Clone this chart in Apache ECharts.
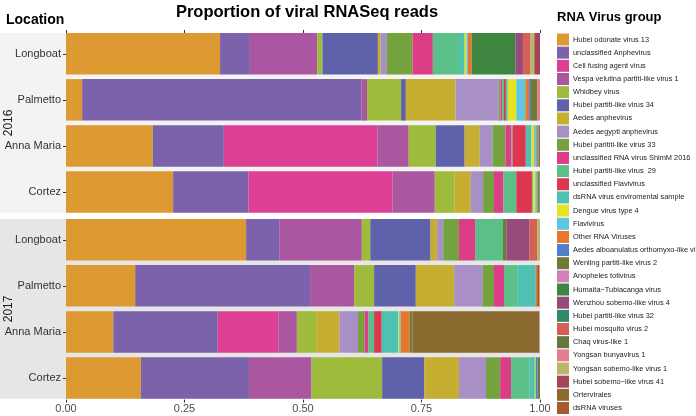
<!DOCTYPE html>
<html>
<head>
<meta charset="utf-8">
<script src="https://cdn.jsdelivr.net/npm/echarts@6/dist/echarts.min.js"></script>
<style>
html,body{margin:0;padding:0;background:#fff;}
#chart{width:696px;height:416px;}
</style>
</head>
<body>
<div id="chart"></div>
<script>
const locations = ['Longboat', 'Palmetto', 'Anna Maria', 'Cortez'];
const years = ['2016', '2017'];
const xTicks = [0, 0.25, 0.5, 0.75, 1];

const virusGroups = [
  'Hubei odonate virus 13', 'unclassified Anphevirus', 'Cell fusing agent virus',
  'Vespa velutina partiti-like virus 1', 'Whidbey virus', 'Hubei partiti-like virus 34',
  'Aedes anphevirus', 'Aedes aegypti anphevirus', 'Hubei parititi-like virus 33',
  'unclassified RNA virus ShimM 2016', 'Hubei partiti-like virus  29', 'unclassified Flavivirus',
  'dsRNA virus enviromental sample', 'Dengue virus type 4', 'Flavivirus', 'Other RNA Viruses',
  'Aedes alboanulatus orthomyxo-like virus', 'Wenling partiti-like virus 2', 'Anopheles totivirus',
  'Humaita\u2212Tubiacanga virus', 'Wenzhou sobemo-like virus 4', 'Hubei partiti-like virus 32',
  'Hubei mosquito virus 2', 'Chaq virus-like 1', 'Yongsan bunyavirus 1',
  'Yongsan sobemo-like virus 1', 'Hubei sobemo\u2212like virus 41', 'Ortervirales', 'dsRNA viruses'
];

const groupColors = [
  '#DD9A33', '#7B62AA', '#DD3F95', '#AB56A0', '#9EBB3C', '#5F62AB',
  '#C5AE30', '#A88FC6', '#74A23F', '#DB3D86', '#5BC087', '#DC3650',
  '#4FC1B0', '#E8E31F', '#5CC7DE', '#E8772E', '#4E80CB', '#707A33',
  '#D480BE', '#3E8540', '#974B7B', '#2E8A68', '#D65F58', '#66773C',
  '#E37E91', '#B8B76A', '#A4455A', '#8B6A2F', '#A8592F'
];

// proportions per sample, in virusGroups order
const longboat2016  = [0.325,0.063,0,0.142,0.011,0.117,0.006,0.013,0.054,0.043,0.055,0,0.012,0.004,0.003,0.008,0,0,0,0.092,0.016,0,0.015,0,0,0.009,0.012,0,0];
const palmetto2016  = [0.034,0.589,0,0.012,0.072,0.010,0.105,0.091,0.004,0.003,0.004,0.004,0.004,0.018,0.019,0.008,0.004,0.013,0,0,0,0,0,0,0.007,0,0,0,0];
const annaMaria2016 = [0.183,0.150,0.324,0.066,0.057,0.061,0.032,0.027,0.027,0.013,0.002,0.028,0.012,0.005,0.004,0.002,0.002,0.002,0,0,0,0,0.001,0.002,0,0,0,0,0];
const cortez2016    = [0.226,0.159,0.304,0.089,0.042,0,0.034,0.026,0.023,0.020,0.027,0.033,0.002,0.005,0.004,0.002,0,0.003,0,0,0,0.002,0,0,0,0,0,0,0];
const longboat2017  = [0.380,0.070,0,0.174,0.018,0.127,0.014,0.013,0.033,0.035,0.058,0,0,0,0,0,0,0.007,0,0,0.049,0,0.016,0,0,0.007,0,0,0];
const palmetto2017  = [0.146,0.369,0,0.093,0.042,0.088,0.081,0.060,0.024,0.021,0.028,0,0.039,0,0,0.003,0,0,0,0,0,0,0,0,0,0,0,0,0.005];
const annaMaria2017 = [0.100,0.220,0.128,0.039,0.041,0,0.049,0.039,0.014,0.008,0.012,0.016,0.035,0.002,0.003,0.019,0,0.003,0,0,0,0,0,0.003,0,0,0,0.268,0];
const cortez2017    = [0.158,0.228,0,0.132,0.149,0.089,0.073,0.057,0.030,0.023,0.039,0,0.011,0.002,0,0,0.004,0.003,0,0,0,0,0,0.002,0,0,0,0,0];

const samplesByYear = [
  [longboat2016, palmetto2016, annaMaria2016, cortez2016],
  [longboat2017, palmetto2017, annaMaria2017, cortez2017]
];

const FONT = '"Liberation Sans", Arial, Helvetica, sans-serif';
const panelTops = [30.7, 216.7];
const panelH = 184.4;
const panelBg = ['#F3F3F3', '#E6E6E6'];

const chart = echarts.init(document.getElementById('chart'), null, {renderer: 'canvas'});

const grids = years.map((y, j) => ({left: 66, width: 474, top: panelTops[j], height: panelH}));

const xAxes = years.map((y, j) => ({
  type: 'value', gridIndex: j, min: 0, max: 1, interval: 0.25,
  position: j === 0 ? 'top' : 'bottom',
  offset: j === 0 ? -2.3 : -1.5,
  axisLine: {show: false},
  axisTick: {show: true, length: 3, lineStyle: {color: '#333', width: 1}},
  axisLabel: {show: j === 1, fontSize: 11, color: '#4D4D4D', fontFamily: FONT, margin: 4,
    formatter: v => v.toFixed(2)},
  splitLine: {show: false}
}));

const yAxes = years.map((y, j) => ({
  type: 'category', gridIndex: j, data: locations, inverse: true,
  axisLine: {show: false},
  axisTick: {show: true, length: 3, alignWithLabel: true, lineStyle: {color: '#333'}},
  axisLabel: {fontSize: 11, color: '#333', fontFamily: FONT, margin: 5}
}));

const series = [];
virusGroups.forEach((name, i) => {
  years.forEach((y, j) => {
    series.push({
      type: 'bar', name: name, stack: 'year' + j,
      xAxisIndex: j, yAxisIndex: j,
      barWidth: 41.5,
      itemStyle: {color: groupColors[i]},
      emphasis: {disabled: true},
      data: samplesByYear[j].map(sample => sample[i])
    });
  });
});

const graphics = [];
years.forEach((y, j) => {
  const top = panelTops[j] + 2.3;
  const h = panelH - 4.6;
  graphics.push({type: 'rect', z: -10, silent: true,
    shape: {x: 0, y: top, width: 540, height: h},
    style: {fill: panelBg[j]}});
  graphics.push({type: 'text', silent: true, z: 10,
    x: 9, y: top + h / 2, rotation: Math.PI / 2,
    style: {text: y, fontSize: 12, fill: '#1A1A1A', font: '12px ' + FONT,
      textAlign: 'center', textVerticalAlign: 'middle'}});
});
graphics.push({type: 'text', silent: true, left: 6, top: 13,
  style: {text: 'Location', font: 'bold 14px ' + FONT, fill: '#000'}});
graphics.push({type: 'text', silent: true, left: 557, top: 11,
  style: {text: 'RNA Virus group', font: 'bold 13px ' + FONT, fill: '#000'}});

chart.setOption({
  animation: false,
  backgroundColor: '#fff',
  title: {text: 'Proportion of viral RNASeq reads', left: 302, top: -1, textAlign: 'center',
    textStyle: {fontSize: 16.5, fontWeight: 'bold', color: '#000', fontFamily: FONT}},
  grid: grids,
  xAxis: xAxes,
  yAxis: yAxes,
  legend: {
    orient: 'vertical', left: 557, top: 33.5, padding: 0,
    itemWidth: 12, itemHeight: 12, itemGap: 1.16, icon: 'rect',
    selectedMode: false,
    data: virusGroups,
    textStyle: {fontSize: 7.4, color: '#1A1A1A', fontFamily: FONT, padding: [0, 0, 0, -1]}
  },
  graphic: graphics,
  series: series
});
</script>
</body>
</html>
